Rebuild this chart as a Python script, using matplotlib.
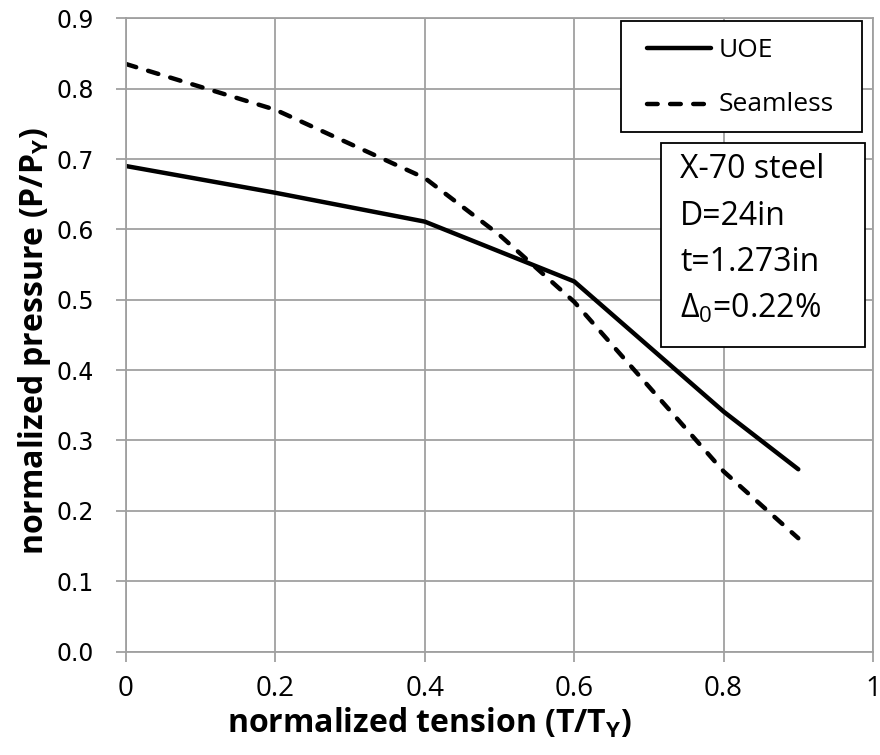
import matplotlib
matplotlib.use("Agg")
import matplotlib.pyplot as plt
from matplotlib.patches import Rectangle
from matplotlib.lines import Line2D

tension = [0.0, 0.2, 0.4, 0.6, 0.8, 0.9]
uoe = [0.690, 0.652, 0.611, 0.526, 0.341, 0.259]
seamless_t = [0.0, 0.2, 0.4, 0.5, 0.6, 0.8, 0.9]
seamless = [0.835, 0.770, 0.673, 0.592, 0.497, 0.256, 0.161]
series_names = ["UOE", "Seamless"]
xticks = [0, 0.2, 0.4, 0.6, 0.8, 1]
xticklabels = ["0", "0.2", "0.4", "0.6", "0.8", "1"]
yticks = [0.0, 0.1, 0.2, 0.3, 0.4, 0.5, 0.6, 0.7, 0.8, 0.9]
yticklabels = ["0.0", "0.1", "0.2", "0.3", "0.4", "0.5", "0.6", "0.7", "0.8", "0.9"]
info_lines = ["X-70 steel", "D=24in", "t=1.273in", "$\\mathregular{\\Delta_0}$=0.22%"]

plt.rcParams['font.family'] = ['Open Sans', 'DejaVu Sans']
plt.rcParams['mathtext.fontset'] = 'custom'
plt.rcParams['mathtext.rm'] = 'Open Sans'
plt.rcParams['mathtext.bf'] = 'Open Sans:bold'

W, H = 880, 755
fig = plt.figure(figsize=(W / 100, H / 100), dpi=100)
x0, x1, y0, y1 = 126, 873, 651.5, 18.3
ax = fig.add_axes([x0 / W, 1 - y0 / H, (x1 - x0) / W, (y0 - y1) / H])

def fx(px):
    return px / W

def fy(py):
    return 1 - py / H

grid_c = "#A0A0A0"
ax.set_xlim(0, 1)
ax.set_ylim(0, 0.9)
ax.set_xticks(xticks)
ax.set_xticklabels(xticklabels, fontsize=20)
ax.set_yticks(yticks)
ax.set_yticklabels(yticklabels, fontsize=17, family='DejaVu Sans')
ax.grid(True, color=grid_c, linewidth=1.3)
ax.set_axisbelow(True)
for s in ax.spines.values():
    s.set_color(grid_c)
    s.set_linewidth(1.3)
ax.tick_params(axis='both', direction='out', length=7, width=1.3, color=grid_c,
               labelcolor='black')
ax.tick_params(axis='x', pad=10)
ax.tick_params(axis='y', pad=16)

lw = 3.2
dash = (2.4, 2.8)
l1, = ax.plot(tension, uoe, color='black', linewidth=lw, label=series_names[0],
              solid_joinstyle='miter', solid_capstyle='round')
l2, = ax.plot(seamless_t, seamless, color='black', linewidth=lw, label=series_names[1],
              dashes=dash, dash_capstyle='round')

ax.set_xlabel("normalized tension (T/T$_\\mathbf{Y}$)", fontsize=23, fontweight='bold')
ax.set_ylabel("normalized pressure (P/P$_\\mathbf{Y}$)", fontsize=23, fontweight='bold')
ax.xaxis.set_label_coords((430 - x0) / (x1 - x0), (y0 - 706) / (y0 - y1))
ax.yaxis.set_label_coords((53 - x0) / (x1 - x0), (y0 - 341) / (y0 - y1))

# legend box
lx0, lx1, ly0, ly1 = 621, 862, 20.7, 131.7
fig.add_artist(Rectangle((fx(lx0), fy(ly1)), (lx1 - lx0) / W, (ly1 - ly0) / H,
                         transform=fig.transFigure, facecolor='white',
                         edgecolor='black', linewidth=1.3, zorder=5))
for line, yrow, ybase in [(l1, 48.3, 57), (l2, 104.3, 111)]:
    h = Line2D([fx(647), fx(711)], [fy(yrow), fy(yrow)], transform=fig.transFigure,
               color=line.get_color(), linewidth=lw, zorder=6,
               solid_capstyle='round', dash_capstyle='round')
    if line is l2:
        h.set_dashes(dash)
    fig.add_artist(h)
    fig.text(fx(719), fy(ybase), line.get_label(), fontsize=19, va='baseline',
             ha='left', zorder=6)

# info box
bx0, bx1, by0, by1 = 661, 865, 143, 347
fig.add_artist(Rectangle((fx(bx0), fy(by1)), (bx1 - bx0) / W, (by1 - by0) / H,
                         transform=fig.transFigure, facecolor='white',
                         edgecolor='black', linewidth=1.3, zorder=5))
for i, t in enumerate(info_lines):
    fig.text(fx(680), fy(178 + i * 46.7), t, fontsize=23, va='baseline',
             ha='left', zorder=6)

fig.savefig("out.png", dpi=100)
